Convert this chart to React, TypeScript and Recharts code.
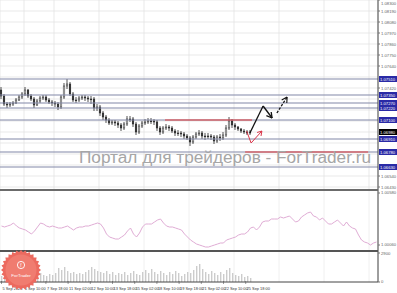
import React from 'react';
import { ComposedChart, Bar, Line, XAxis, YAxis, CartesianGrid, ReferenceLine } from 'recharts';

// ---- price candles (one candle per slot) ----
const firstOpen = 1.074;
const closes = [
  1.0734, 1.0726, 1.0725, 1.0726, 1.0727, 1.073, 1.0733, 1.0736, 1.074, 1.0734,
  1.0731, 1.0725, 1.0729, 1.0732, 1.0733, 1.073, 1.0728, 1.0727, 1.0726, 1.0723,
  1.0733, 1.0744, 1.0746, 1.0736, 1.073, 1.073, 1.0732, 1.0733, 1.0732, 1.0731,
  1.0731, 1.0722, 1.0723, 1.0717, 1.0713, 1.071, 1.0707, 1.0708, 1.0707, 1.0705,
  1.0702, 1.0706, 1.0711, 1.0711, 1.0706, 1.0698, 1.0704, 1.0707, 1.0708, 1.0709,
  1.0709, 1.0708, 1.0702, 1.0698, 1.0702, 1.0703, 1.0702, 1.0699, 1.0697, 1.0697,
  1.0696, 1.0694, 1.0692, 1.0688, 1.0693, 1.0696, 1.0697, 1.0694, 1.0694, 1.0694,
  1.0693, 1.0689, 1.0693, 1.0692, 1.0695, 1.0702, 1.0709, 1.0705, 1.0703, 1.0701,
  1.0699, 1.0698, 1.0697, 1.0698,
];
const highs = [
  1.0743, 1.0736, 1.0728, 1.0728, 1.0729, 1.0732, 1.0735, 1.0738, 1.0743, 1.0741,
  1.0736, 1.0733, 1.0731, 1.0734, 1.0735, 1.0735, 1.0732, 1.073, 1.0729, 1.0728,
  1.0735, 1.0747, 1.0751, 1.0748, 1.0738, 1.0733, 1.0734, 1.0735, 1.0735, 1.0734,
  1.0734, 1.0733, 1.0726, 1.0725, 1.0719, 1.0715, 1.0712, 1.071, 1.071, 1.0709,
  1.0707, 1.0708, 1.0714, 1.0714, 1.0713, 1.0708, 1.0706, 1.0709, 1.0711, 1.0712,
  1.0712, 1.0711, 1.071, 1.0704, 1.0704, 1.0706, 1.0705, 1.0704, 1.0701, 1.07,
  1.0699, 1.0698, 1.0696, 1.0694, 1.0695, 1.0698, 1.07, 1.0699, 1.0697, 1.0697,
  1.0696, 1.0695, 1.0695, 1.0696, 1.0698, 1.0705, 1.0713, 1.0711, 1.0707, 1.0704,
  1.0702, 1.0701, 1.07, 1.07,
];
const lows = [
  1.0731, 1.0724, 1.0722, 1.0723, 1.0724, 1.0726, 1.0729, 1.0731, 1.0734, 1.0732,
  1.0729, 1.0722, 1.0724, 1.0727, 1.073, 1.0728, 1.0726, 1.0724, 1.0723, 1.072,
  1.0721, 1.0731, 1.0741, 1.0734, 1.0728, 1.0727, 1.0728, 1.073, 1.0729, 1.0728,
  1.0726, 1.0719, 1.0719, 1.0714, 1.071, 1.0707, 1.0705, 1.0705, 1.0704, 1.0702,
  1.0699, 1.07, 1.0704, 1.0708, 1.0703, 1.0695, 1.0696, 1.0702, 1.0705, 1.0706,
  1.0706, 1.0705, 1.0699, 1.0695, 1.0696, 1.07, 1.0699, 1.0697, 1.0694, 1.0694,
  1.0693, 1.0691, 1.069, 1.0684, 1.0686, 1.0691, 1.0694, 1.0691, 1.069, 1.0691,
  1.069, 1.0686, 1.0687, 1.0689, 1.069, 1.0693, 1.07, 1.0702, 1.07, 1.0699,
  1.0697, 1.0696, 1.0695, 1.0695,
];

// ---- oscillator (lower panel) ----
const oscValues = [
  1.0025, 1.0024, 1.0025, 1.0026, 1.0028, 1.0025, 1.0023, 1.0022, 1.0021, 1.0019,
  1.0017, 1.002, 1.0024, 1.0028, 1.0027, 1.0025, 1.0024, 1.0025, 1.0024, 1.0023,
  1.0023, 1.0024, 1.0025, 1.0023, 1.0021, 1.0023, 1.0024, 1.0024, 1.0025, 1.0025,
  1.0026, 1.0027, 1.0028, 1.0027, 1.0023, 1.0017, 1.0014, 1.0013, 1.0012, 1.0012,
  1.0014, 1.0016, 1.002, 1.0023, 1.0017, 1.0014, 1.0018, 1.0024, 1.0027, 1.0027,
  1.0027, 1.0029, 1.0031, 1.0032, 1.0028, 1.0025, 1.0024, 1.0024, 1.0023, 1.0022,
  1.0021, 1.0017, 1.0014, 1.0011, 1.0009, 1.0007, 1.0006, 1.0005, 1.0004, 1.0004,
  1.0005, 1.0006, 1.0007, 1.0008, 1.0008, 1.0011, 1.0012, 1.0013, 1.0014, 1.0016,
  1.0017, 1.0017, 1.0019, 1.0023, 1.0024, 1.0021, 1.0024, 1.0029, 1.003, 1.003,
  1.0032, 1.0032, 1.0032, 1.0034, 1.0033, 1.0034, 1.0035, 1.0032, 1.0029, 1.003,
  1.0034, 1.0036, 1.0038, 1.0039, 1.0035, 1.0034, 1.0031, 1.0033, 1.003, 1.0027,
  1.0027, 1.0029, 1.0031, 1.0028, 1.0025, 1.0029, 1.0025, 1.0023, 1.0022, 1.0016,
  1.0011, 1.0009, 1.0008, 1.0006, 1.0008, 1.0009,
];

// ---- volumes (bottom panel) ----
const volumes = [
  600, 500, 700, 600, 500, 800, 600, 700, 500, 600, 800, 700, 600, 900, 700, 600, 800, 700, 900,
  1400, 1200, 1500, 1100, 900, 1000, 800, 900, 800, 1000,
  1200, 1500, 1300, 1100, 1000,
  900, 1100, 800, 1000, 700, 900,
  800, 1000, 700, 900, 1100, 800, 700, 1000,
  1200, 900, 1300, 1000, 800, 1100,
  900, 700, 1000, 800, 1100, 900, 600, 800, 1000,
  900, 1200, 1600, 1800, 1300, 1000, 800,
  1100, 900, 700, 1000, 800, 1200,
  1400, 900, 700, 600, 800, 500, 600, 400,
];

// ---- levels and ticks ----
const levelPrices = [1.0751, 1.0735, 1.0727, 1.0722, 1.071, 1.0691, 1.0678, 1.0663];
// axis labels that are not hidden behind the level tags
const priceTicks = [
  1.083, 1.0819, 1.0808, 1.0797, 1.0786, 1.0775, 1.0764, 1.0742, 1.0654, 1.0643,
];
const gridPriceTicks = [
  1.083, 1.0819, 1.0808, 1.0797, 1.0786, 1.0775, 1.0764, 1.0753, 1.0742, 1.0731,
  1.072, 1.0709, 1.0698, 1.0687, 1.0676, 1.0665, 1.0654, 1.0643,
];
const oscTicks = [1.0058, 1.0006];
const volTicks = [0, 2900];
const dateLabels = [
  '5 Sep 2023', '6 Sep 10:00', '7 Sep 18:00', '11 Sep 02:00', '12 Sep 10:00', '13 Sep 18:00',
  '15 Sep 02:00', '18 Sep 10:00', '19 Sep 18:00', '21 Sep 02:00', '22 Sep 10:00', '25 Sep 18:00',
];
const dateSlots = [0, 7.4, 14.8, 22.2, 29.6, 37, 44.4, 51.8, 59.2, 66.6, 74, 81.4];

// ---- drawn annotations (slot, price) ----
const redLevelA = [{ x: 54.5, y: 1.071 }, { x: 83.5, y: 1.071 }];
const redLevelB = [{ x: 81.2, y: 1.0678 }, { x: 122.2, y: 1.0678 }];
const blackArrow = [
  [{ x: 82.8, y: 1.0697 }, { x: 87.2, y: 1.0724 }],
  [{ x: 87.2, y: 1.0724 }, { x: 90.2, y: 1.0712 }],
  [{ x: 90.2, y: 1.0712 }, { x: 89.9, y: 1.0718 }],
  [{ x: 90.2, y: 1.0712 }, { x: 88.3, y: 1.07144 }],
];
const dashedArrow = [{ x: 91.8, y: 1.0717 }, { x: 95.2, y: 1.0733 }];
const dashedHead = [
  [{ x: 95.2, y: 1.0733 }, { x: 93.4, y: 1.073 }],
  [{ x: 95.2, y: 1.0733 }, { x: 95.1, y: 1.0727 }],
];
const redV = [
  [{ x: 81.7, y: 1.0699 }, { x: 83.2, y: 1.0687 }],
  [{ x: 83.2, y: 1.0687 }, { x: 86.8, y: 1.0699 }],
  [{ x: 86.8, y: 1.0699 }, { x: 85.2, y: 1.06975 }],
  [{ x: 86.8, y: 1.0699 }, { x: 86.5, y: 1.0694 }],
];

const mainData = closes.map((c, i) => ({
  i,
  open: i === 0 ? firstOpen : closes[i - 1],
  close: c,
  high: highs[i],
  low: lows[i],
  range: [lows[i], highs[i]],
}));
const oscData = oscValues.map((v, i) => ({ i, osc: v }));
const volData = volumes.map((v, i) => ({ i, vol: v }));
const lastClose = closes[closes.length - 1];

const X_DOMAIN: [number, number] = [-0.5, 125.5];
const gridSlots = Array.from({ length: 25 }, (_, k) => 2.5 + 5 * k);
const FONT = 'Liberation Sans, Arial, sans-serif';

const Candle = (props: any) => {
  const { x, y, width, height, payload } = props;
  if (!payload || height == null) return null;
  const { open, close, high, low } = payload;
  const span = high - low || 1e-9;
  const toY = (v: number) => y + ((high - v) / span) * height;
  const cx = x + width / 2;
  const yo = toY(open);
  const yc = toY(close);
  const top = Math.min(yo, yc);
  const bh = Math.max(Math.abs(yo - yc), 0.8);
  const bull = close > open;
  return (
    <g>
      <line x1={cx} x2={cx} y1={y} y2={y + height} stroke="#2a2a2a" strokeWidth={0.8} />
      <rect x={cx - 0.8} y={top} width={1.6} height={bh} fill={bull ? '#f4f4f4' : '#2a2a2a'} stroke="#2a2a2a" strokeWidth={0.5} />
    </g>
  );
};

const LevelTag = (props: any) => {
  const { viewBox, price, color } = props;
  if (!viewBox) return null;
  const x = viewBox.x + viewBox.width + 1;
  const y = viewBox.y;
  return (
    <g>
      <rect x={x} y={y - 3} width={18} height={6} fill={color} />
      <text x={x + 1} y={y + 1.6} fontSize={4.2} fill="#ffffff" fontFamily={FONT}>
        {price.toFixed(5)}
      </text>
    </g>
  );
};

const PriceTick = (props: any) => {
  const { x, y, payload } = props;
  const yy = Math.max(y, 3);
  return (
    <text x={x} y={yy + 1.5} fontSize={4.2} fill="#666" fontFamily={FONT} textAnchor="start">
      {Number(payload.value).toFixed(5)}
    </text>
  );
};

const DateTick = (props: any) => {
  const { x, y, payload } = props;
  const idx = dateSlots.indexOf(payload.value);
  return (
    <g>
      <line x1={x} x2={x} y1={y - 3} y2={y} stroke="#555" strokeWidth={0.6} />
      <text x={x + 1} y={y + 6} fontSize={3.9} fill="#333" fontFamily={FONT} textAnchor="start">
        {idx >= 0 ? dateLabels[idx] : ''}
      </text>
    </g>
  );
};

const gear = (() => {
  const pts: string[] = [];
  const n = 28;
  for (let k = 0; k < n * 2; k++) {
    const r = k % 2 === 0 ? 20 : 17.8;
    const a = (Math.PI * k) / n;
    pts.push(`${(21 + r * Math.cos(a)).toFixed(2)},${(270 + r * Math.sin(a)).toFixed(2)}`);
  }
  return pts.join(' ');
})();

export default function App() {
  const yTick = { fontSize: 4.2, fill: '#666', fontFamily: FONT };
  return (
    <div style={{ position: 'absolute', left: 0, top: 0, width: 397, height: 293, background: '#fff', overflow: 'hidden', fontFamily: FONT }}>
      <div style={{ position: 'absolute', left: 0, top: 0 }}>
        <ComposedChart width={397} height={190} data={mainData} margin={{ top: 0, right: 0, bottom: 0, left: 0 }}>
          <CartesianGrid stroke="#e3e3e3" strokeWidth={0.8} horizontalValues={gridPriceTicks} />
          <XAxis dataKey="i" type="number" domain={X_DOMAIN} ticks={gridSlots} hide allowDataOverflow />
          <YAxis
            orientation="right"
            width={19}
            domain={[1.064, 1.083]}
            ticks={priceTicks}
            interval={0}
            allowDataOverflow
            tick={<PriceTick />}
            tickSize={2}
            tickMargin={1}
            axisLine={{ stroke: '#444' }}
            tickLine={{ stroke: '#777' }}
          />
          {levelPrices.map((p) => (
            <ReferenceLine key={p} y={p} stroke="#8287a8" strokeWidth={1.2} label={<LevelTag price={p} color="#2a2aa6" />} />
          ))}
          <ReferenceLine y={lastClose} stroke="none" label={<LevelTag price={lastClose} color="#000000" />} />
          <ReferenceLine segment={redLevelA} stroke="#e03a3a" strokeWidth={1.1} />
          <ReferenceLine segment={redLevelB} stroke="#e03a3a" strokeWidth={1.1} />
          <Bar dataKey="range" barSize={2} shape={<Candle />} isAnimationActive={false} />
          {blackArrow.map((s, k) => (
            <ReferenceLine key={'b' + k} segment={s} stroke="#111" strokeWidth={1.3} />
          ))}
          <ReferenceLine segment={dashedArrow} stroke="#111" strokeWidth={1.3} strokeDasharray="2.5 1.5" />
          {dashedHead.map((s, k) => (
            <ReferenceLine key={'d' + k} segment={s} stroke="#111" strokeWidth={1.1} />
          ))}
          {redV.map((s, k) => (
            <ReferenceLine key={'r' + k} segment={s} stroke="#d9364a" strokeWidth={1} />
          ))}
        </ComposedChart>
      </div>
      <div style={{ position: 'absolute', left: 0, top: 190 }}>
        <ComposedChart width={397} height={61} data={oscData} margin={{ top: 0, right: 0, bottom: 0, left: 0 }}>
          <CartesianGrid stroke="#ececec" strokeWidth={0.8} horizontal={false} />
          <XAxis dataKey="i" type="number" domain={X_DOMAIN} ticks={gridSlots} hide allowDataOverflow />
          <YAxis
            orientation="right"
            width={19}
            domain={[1.0, 1.0061]}
            ticks={oscTicks}
            interval={0}
            allowDataOverflow
            tick={yTick}
            tickSize={2}
            tickMargin={1}
            axisLine={{ stroke: '#444' }}
            tickLine={{ stroke: '#777' }}
            tickFormatter={(v: number) => v.toFixed(5)}
          />
          <Line dataKey="osc" stroke="#dba3cf" strokeWidth={0.9} dot={false} isAnimationActive={false} />
        </ComposedChart>
      </div>
      <div style={{ position: 'absolute', left: 0, top: 251 }}>
        <ComposedChart width={397} height={42} data={volData} margin={{ top: 0, right: 0, bottom: 0, left: 0 }}>
          <CartesianGrid xAxisId="g" stroke="#ececec" strokeWidth={0.8} horizontal={false} />
          <XAxis xAxisId="g" dataKey="i" type="number" domain={X_DOMAIN} ticks={gridSlots} hide allowDataOverflow />
          <XAxis
            xAxisId="d"
            dataKey="i"
            type="number"
            domain={X_DOMAIN}
            ticks={dateSlots}
            interval={0}
            allowDataOverflow
            height={11}
            tickSize={0}
            tickLine={false}
            axisLine={{ stroke: '#444' }}
            tick={<DateTick />}
          />
          <YAxis
            orientation="right"
            width={19}
            domain={[0, 3100]}
            ticks={volTicks}
            interval={0}
            allowDataOverflow
            tick={yTick}
            tickSize={2}
            tickMargin={1}
            axisLine={{ stroke: '#444' }}
            tickLine={{ stroke: '#777' }}
          />
          <Bar xAxisId="g" dataKey="vol" barSize={1.4} fill="#cccccc" isAnimationActive={false} />
        </ComposedChart>
      </div>
      <div style={{ position: 'absolute', left: 0, top: 189, width: 378, height: 2, background: '#6b6b6b' }} />
      <div style={{ position: 'absolute', left: 0, top: 250, width: 378, height: 2, background: '#555' }} />
      <svg width={397} height={293} style={{ position: 'absolute', left: 0, top: 0, pointerEvents: 'none' }}>
        <text x={79} y={163} fontSize={16} fill="#a6a6a6" fontFamily={FONT} textLength={292} lengthAdjust="spacingAndGlyphs">
          Портал для трейдеров - ForTrader.ru
        </text>
        <polygon points={gear} fill="#ec6a5f" />
        <circle cx={21} cy={270} r={15.5} fill="#f07c70" />
        <circle cx={21} cy={265} r={3.6} fill="none" stroke="#fff" strokeWidth={0.9} />
        <text x={21} y={266.6} fontSize={4.5} fill="#fff" textAnchor="middle" fontFamily={FONT}>f</text>
        <text x={21} y={277} fontSize={4.4} fill="#fff" textAnchor="middle" fontFamily={FONT}>ForTrader</text>
      </svg>
    </div>
  );
}
